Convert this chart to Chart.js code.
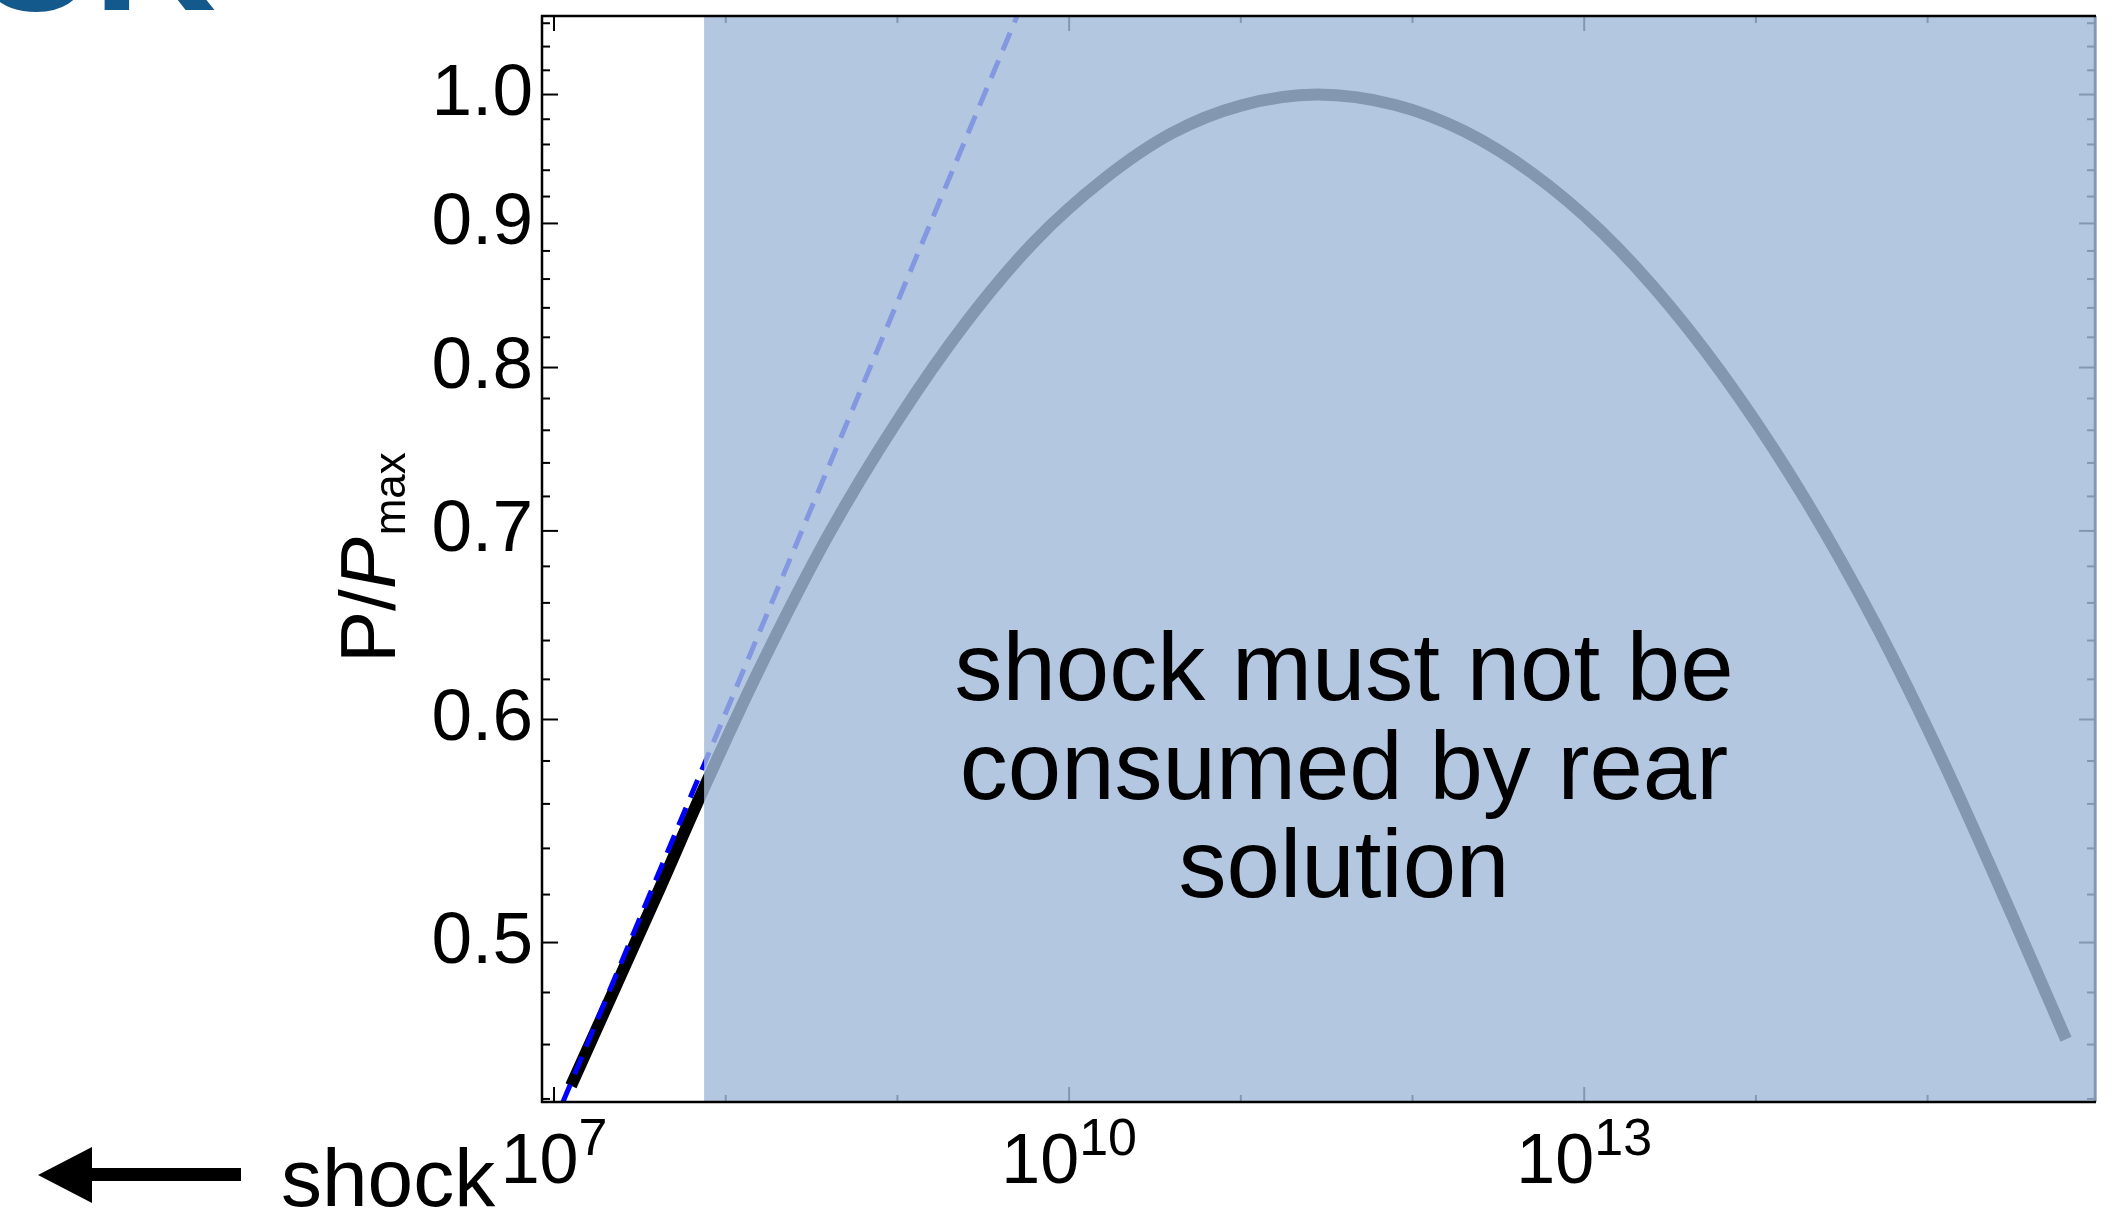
<!DOCTYPE html>
<html>
<head>
<meta charset="utf-8">
<title>P/Pmax</title>
<script src="https://cdn.jsdelivr.net/npm/chart.js@4.4.1/dist/chart.umd.min.js"></script>
<style>
  html, body { margin: 0; padding: 0; background: #fff; overflow: hidden; }
  #wrap { position: relative; width: 2121px; height: 1217px; }
</style>
</head>
<body>
<div id="wrap"><canvas id="chart"></canvas></div>
<script>
// values
const rearX = [1.256e7, 3.98e7, 7.48e7, 1.585e8, 3.98e8, 1.0e9, 2.51e9, 6.31e9, 1.585e10, 3.98e10,
               1.0e11, 2.79e11, 7.94e11, 2.0e12, 5.01e12, 1.26e13, 3.16e13, 7.94e13,
               2.0e14, 5.01e14, 1.26e15, 3.16e15, 6.4e15];
const rearY = [0.4448, 0.520, 0.5674, 0.626, 0.698, 0.766, 0.830, 0.887, 0.933, 0.969,
               0.991, 1.0, 0.9915, 0.9705, 0.9375, 0.894, 0.841, 0.781,
               0.716, 0.648, 0.578, 0.510, 0.462];
const shockFitX = [1.127e7, 4.977e9];
const shockFitY = [0.4389, 1.0663];
const shadeStartX = 7.48e7;

const xRange = [8.51e6, 9.44e15];
const yRange = [0.4389, 1.0663];
const xDecadeTicks = [1e7, 1e8, 1e9, 1e10, 1e11, 1e12, 1e13, 1e14, 1e15];
const xMajorTicks = [1e7, 1e10, 1e13];
const xLabelExponents = ['7', '10', '13'];
const yMajorTicks = [0.5, 0.6, 0.7, 0.8, 0.9, 1.0];
const yMinorTicks = [0.44, 0.46, 0.48, 0.52, 0.54, 0.56, 0.58, 0.62, 0.64, 0.66, 0.68,
                     0.72, 0.74, 0.76, 0.78, 0.82, 0.84, 0.86, 0.88, 0.92, 0.94, 0.96, 0.98,
                     1.02, 1.04, 1.06];
const noteLines = ['shock must not be', 'consumed by rear', 'solution'];

const FONT = "'Liberation Sans', Arial, Helvetica, sans-serif";

const toPoints = (xs, ys) => xs.map((v, i) => ({ x: v, y: ys[i] }));

const figureDecor = {
    id: 'figureDecor',
    afterDatasetsDraw(chart) {
        const { ctx, chartArea: a, scales: { x, y } } = chart;
        const seg = (x1, y1, x2, y2) => {
            ctx.beginPath();
            ctx.moveTo(x1, y1);
            ctx.lineTo(x2, y2);
            ctx.stroke();
        };
        ctx.save();
        ctx.strokeStyle = '#000';
        ctx.lineWidth = 2;

        // inward ticks on all four sides
        yMajorTicks.concat(yMinorTicks).forEach(v => {
            const py = y.getPixelForValue(v);
            const len = yMajorTicks.includes(v) ? 16 : 8;
            seg(a.left, py, a.left + len, py);
            seg(a.right, py, a.right - len, py);
        });
        xDecadeTicks.forEach(v => {
            const px = x.getPixelForValue(v);
            const len = xMajorTicks.includes(v) ? 15 : 7;
            seg(px, a.bottom, px, a.bottom - len);
            seg(px, a.top, px, a.top + len);
        });

        // right frame sits under the shading
        ctx.lineWidth = 2.5;
        seg(a.right, a.top, a.right, a.bottom);

        // shaded region
        const xs = x.getPixelForValue(shadeStartX);
        ctx.fillStyle = 'rgba(163, 186, 218, 0.81)';
        ctx.fillRect(xs, a.top, a.right + 2 - xs, a.bottom - a.top);

        // frame
        seg(a.left - 1, a.top, a.right + 1, a.top);
        seg(a.left - 1, a.bottom, a.right + 1, a.bottom);
        seg(a.left, a.top - 1, a.left, a.bottom + 1);
        ctx.restore();
    },
    afterDraw(chart) {
        const { ctx, chartArea: a, scales: { x } } = chart;
        ctx.save();
        ctx.fillStyle = '#000';
        ctx.textBaseline = 'alphabetic';
        ctx.textAlign = 'left';

        // x tick labels with superscripts
        xMajorTicks.forEach((v, i) => {
            const px = x.getPixelForValue(v);
            ctx.font = `70px ${FONT}`;
            const wb = ctx.measureText('10').width;
            ctx.font = `52px ${FONT}`;
            const we = ctx.measureText(xLabelExponents[i]).width;
            const x0 = px - (wb + we) / 2;
            ctx.font = `70px ${FONT}`;
            ctx.fillText('10', x0, a.bottom + 81);
            ctx.font = `52px ${FONT}`;
            ctx.fillText(xLabelExponents[i], x0 + wb, a.bottom + 53);
        });

        // note in the shaded region
        ctx.font = `96px ${FONT}`;
        ctx.textAlign = 'center';
        noteLines.forEach((t, i) => ctx.fillText(t, 1344, 700 + i * 98.5));

        // y axis title P/P_max
        ctx.save();
        ctx.translate(395, 663);
        ctx.rotate(-Math.PI / 2);
        ctx.textAlign = 'left';
        ctx.font = `78px ${FONT}`;
        ctx.fillText('P/', 0, 0);
        let w = ctx.measureText('P/').width;
        ctx.font = `italic 78px ${FONT}`;
        ctx.fillText('P', w, 0);
        w += ctx.measureText('P').width;
        ctx.font = `44px ${FONT}`;
        ctx.fillText('max', w + 2, 10);
        ctx.restore();

        // arrow and "shock"
        ctx.fillRect(90, 1168, 151, 13);
        ctx.beginPath();
        ctx.moveTo(38, 1175);
        ctx.lineTo(92, 1147);
        ctx.lineTo(92, 1203);
        ctx.closePath();
        ctx.fill();
        ctx.textAlign = 'left';
        ctx.font = `82px ${FONT}`;
        ctx.fillText('shock', 281, 1206);

        // cut-off slide title at top left
        ctx.fillStyle = '#14598c';
        ctx.font = `bold 170px ${FONT}`;
        ctx.textAlign = 'right';
        ctx.fillText('CK', 216, 10);
        ctx.restore();
    }
};

const zeroPadding = s => {
    s.paddingTop = 0;
    s.paddingBottom = 0;
    s.paddingLeft = 0;
    s.paddingRight = 0;
};

new Chart(document.getElementById('chart'), {
    type: 'line',
    data: {
        datasets: [
            {
                label: 'shock power law',
                data: toPoints(shockFitX, shockFitY),
                borderColor: '#0000ff',
                borderWidth: 5,
                borderDash: [19, 11],
                pointRadius: 0,
                fill: false,
                clip: 0
            },
            {
                label: 'rear solution',
                data: toPoints(rearX, rearY),
                borderColor: '#000000',
                borderWidth: 12,
                borderJoinStyle: 'round',
                cubicInterpolationMode: 'monotone',
                pointRadius: 0,
                fill: false,
                clip: 0
            }
        ]
    },
    options: {
        responsive: true,
        maintainAspectRatio: false,
        animation: false,
        layout: { padding: { top: 16, right: 26, left: 0, bottom: 0 } },
        plugins: {
            legend: { display: false },
            tooltip: { enabled: false }
        },
        scales: {
            x: {
                type: 'logarithmic',
                min: xRange[0],
                max: xRange[1],
                grid: { display: false, drawTicks: false },
                border: { display: false },
                ticks: { display: false },
                afterBuildTicks: s => { s.ticks = xDecadeTicks.map(v => ({ value: v })); },
                afterFit: s => { s.height = 115; zeroPadding(s); }
            },
            y: {
                type: 'logarithmic',
                min: yRange[0],
                max: yRange[1],
                grid: { display: false, drawTicks: false },
                border: { display: false },
                ticks: {
                    autoSkip: false,
                    padding: 9,
                    color: '#000',
                    font: { family: FONT, size: 73 },
                    callback: v => Number(v).toFixed(1)
                },
                afterBuildTicks: s => { s.ticks = yMajorTicks.map(v => ({ value: v })); },
                afterFit: s => { s.width = 542; zeroPadding(s); }
            }
        }
    },
    plugins: [figureDecor]
});
</script>
</body>
</html>
